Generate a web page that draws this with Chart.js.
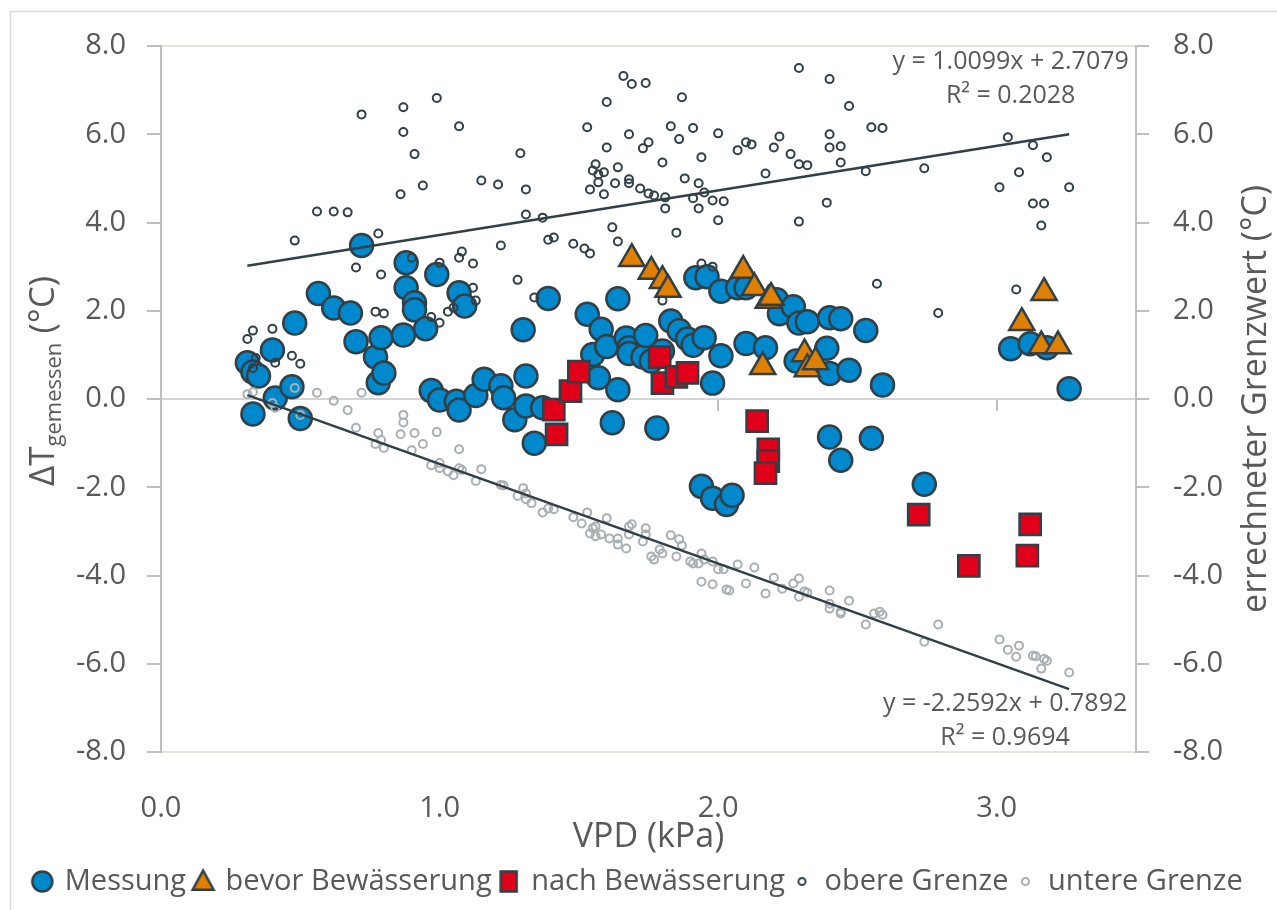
<!DOCTYPE html>
<html>
<head>
<meta charset="utf-8">
<script src="https://cdn.jsdelivr.net/npm/chart.js@4.4.1/dist/chart.umd.min.js"></script>
<style>
  html, body { margin: 0; background: #fff; }
  #wrap { width: 1277px; height: 910px; position: relative; }
</style>
</head>
<body>
<div id="wrap"><canvas id="chart"></canvas></div>
<script>
// Messung (blue circles)
const messungX = [0.31, 0.33, 0.35, 0.33, 0.40, 0.41, 0.47, 0.48, 0.50, 0.565, 0.62, 0.68, 0.70, 0.72, 0.77, 0.78, 0.79, 0.80, 0.87, 0.88,
  0.88, 0.91, 0.91, 0.95, 0.97, 0.99, 1.00, 1.06, 1.07, 1.07, 1.09, 1.13, 1.16, 1.22, 1.23, 1.27, 1.30, 1.31, 1.31, 1.34,
  1.37, 1.39, 1.53, 1.55, 1.57, 1.58, 1.60, 1.62, 1.64, 1.64, 1.67, 1.68, 1.68, 1.73, 1.74, 1.76, 1.78, 1.80, 1.83, 1.86,
  1.89, 1.91, 1.92, 1.94, 1.95, 1.96, 1.98, 1.98, 2.01, 2.01, 2.03, 2.05, 2.07, 2.10, 2.10, 2.17, 2.21, 2.22, 2.27, 2.28,
  2.29, 2.32, 2.39, 2.40, 2.40, 2.40, 2.44, 2.44, 2.47, 2.53, 2.55, 2.59, 2.74, 3.05, 3.12, 3.18, 3.26];
const messungY = [0.82, 0.61, 0.52, -0.34, 1.11, 0.02, 0.28, 1.72, -0.44, 2.39, 2.06, 1.95, 1.30, 3.48, 0.95, 0.37, 1.39, 0.59, 1.45, 3.09,
  2.52, 2.18, 2.02, 1.59, 0.19, 2.82, -0.02, -0.05, -0.25, 2.41, 2.11, 0.08, 0.45, 0.30, 0.03, -0.47, 1.57, 0.52, -0.16, -1.00,
  -0.20, 2.28, 1.92, 1.01, 0.48, 1.58, 1.19, -0.54, 2.27, 0.21, 1.38, 1.16, 1.03, 0.95, 1.44, 0.86, -0.66, 1.09, 1.77, 1.55,
  1.36, 1.22, 2.75, -1.98, 1.39, 2.77, 0.36, -2.25, 2.44, 0.98, -2.39, -2.18, 2.52, 2.52, 1.26, 1.16, 2.25, 1.93, 2.09, 0.86,
  1.72, 1.75, 1.15, 1.84, 0.58, -0.86, 1.82, -1.39, 0.65, 1.55, -0.89, 0.32, -1.93, 1.14, 1.25, 1.16, 0.23];

// bevor Bewaesserung (orange triangles)
const bevorX = [1.69, 1.76, 1.80, 1.82, 2.09, 2.13, 2.18, 2.19, 2.16, 2.31, 2.32, 2.35, 3.09, 3.17, 3.16, 3.22];
const bevorY = [3.18, 2.89, 2.68, 2.48, 2.91, 2.52, 2.23, 2.30, 0.73, 1.02, 0.68, 0.84, 1.73, 2.41, 1.20, 1.20];

// nach Bewaesserung (red squares)
const nachX = [1.41, 1.42, 1.47, 1.50, 1.79, 1.80, 1.85, 1.89, 2.14, 2.18, 2.18, 2.17, 2.72, 2.90, 3.12, 3.11];
const nachY = [-0.24, -0.80, 0.18, 0.62, 0.95, 0.36, 0.50, 0.59, -0.50, -1.14, -1.41, -1.68, -2.62, -3.78, -2.84, -3.55];

// obere Grenze
const obereX = [0.31, 0.33, 0.33, 0.34, 0.40, 0.41, 0.47, 0.48, 0.50, 0.56, 0.62, 0.67, 0.70, 0.72, 0.77, 0.78, 0.79, 0.80, 0.86, 0.87,
  0.87, 0.90, 0.91, 0.94, 0.97, 0.99, 1.00, 1.00, 1.03, 1.05, 1.07, 1.07, 1.08, 1.12, 1.12, 1.13, 1.15, 1.21, 1.22, 1.28,
  1.29, 1.31, 1.31, 1.34, 1.37, 1.39, 1.41, 1.48, 1.52, 1.53, 1.54, 1.54, 1.55, 1.56, 1.57, 1.57, 1.59, 1.59, 1.60, 1.60,
  1.62, 1.63, 1.64, 1.64, 1.66, 1.68, 1.68, 1.68, 1.69, 1.72, 1.73, 1.74, 1.75, 1.75, 1.77, 1.80, 1.80, 1.81, 1.81, 1.83,
  1.85, 1.86, 1.87, 1.88, 1.91, 1.91, 1.93, 1.93, 1.94, 1.94, 1.95, 1.98, 1.98, 2.00, 2.00, 2.02, 2.07, 2.10, 2.12, 2.17,
  2.20, 2.22, 2.26, 2.29, 2.29, 2.29, 2.32, 2.39, 2.40, 2.40, 2.40, 2.44, 2.44, 2.47, 2.53, 2.55, 2.57, 2.59, 2.74, 2.79,
  3.01, 3.04, 3.07, 3.08, 3.13, 3.13, 3.16, 3.17, 3.18, 3.26];
const obereY = [1.36, 1.55, 0.70, 0.93, 1.59, 0.82, 0.98, 3.59, 0.80, 4.25, 4.25, 4.23, 2.98, 6.45, 1.98, 3.75, 2.82, 1.94, 4.64, 6.61,
  6.05, 3.20, 5.55, 4.84, 1.86, 6.82, 3.09, 1.73, 1.98, 2.07, 6.18, 3.20, 3.34, 3.07, 2.52, 2.23, 4.95, 4.86, 3.48, 2.70,
  5.57, 4.75, 4.18, 2.30, 4.11, 3.61, 3.66, 3.52, 3.41, 6.16, 3.30, 4.75, 5.18, 5.32, 5.09, 4.91, 5.14, 4.64, 6.73, 5.70,
  3.89, 4.89, 5.25, 3.57, 7.32, 6.00, 4.89, 4.98, 7.14, 4.77, 5.68, 7.16, 5.82, 4.66, 4.61, 5.36, 2.23, 4.57, 4.32, 6.18,
  3.77, 5.89, 6.84, 5.00, 6.14, 4.55, 4.89, 4.32, 5.48, 3.07, 4.68, 4.50, 3.00, 6.02, 4.05, 4.48, 5.64, 5.82, 5.77, 5.11,
  5.70, 5.95, 5.55, 7.50, 5.32, 4.02, 5.30, 4.45, 7.25, 6.00, 5.70, 5.73, 5.36, 6.64, 5.16, 6.16, 2.61, 6.14, 5.23, 1.95,
  4.80, 5.93, 2.48, 5.14, 5.75, 4.43, 3.93, 4.43, 5.48, 4.80];

// untere Grenze
const untereX = [0.31, 0.33, 0.40, 0.41, 0.48, 0.50, 0.56, 0.62, 0.67, 0.70, 0.72, 0.77, 0.78, 0.79, 0.80, 0.86, 0.87, 0.87, 0.90, 0.91,
  0.94, 0.97, 0.99, 1.00, 1.00, 1.03, 1.05, 1.07, 1.07, 1.08, 1.13, 1.15, 1.22, 1.23, 1.28, 1.30, 1.31, 1.31, 1.33, 1.37,
  1.39, 1.41, 1.48, 1.51, 1.53, 1.54, 1.55, 1.56, 1.56, 1.58, 1.60, 1.61, 1.64, 1.64, 1.67, 1.68, 1.68, 1.69, 1.73, 1.74,
  1.74, 1.76, 1.77, 1.79, 1.80, 1.83, 1.85, 1.86, 1.87, 1.90, 1.91, 1.93, 1.94, 1.94, 1.95, 1.98, 1.98, 2.00, 2.02, 2.03,
  2.04, 2.07, 2.10, 2.13, 2.17, 2.20, 2.23, 2.27, 2.29, 2.29, 2.31, 2.32, 2.40, 2.40, 2.40, 2.44, 2.44, 2.47, 2.53, 2.56,
  2.58, 2.59, 2.74, 2.79, 3.01, 3.04, 3.07, 3.08, 3.13, 3.14, 3.16, 3.17, 3.18, 3.26];
const untereY = [0.11, 0.16, -0.09, -0.20, 0.25, -0.36, 0.14, -0.04, -0.25, -0.65, 0.14, -1.02, -0.77, -0.93, -1.11, -0.80, -0.36, -0.53, -1.16, -0.77,
  -1.02, -1.50, -0.75, -1.45, -1.57, -1.64, -1.73, -1.14, -1.57, -1.61, -1.86, -1.59, -1.95, -1.96, -2.20, -2.02, -2.14, -2.27, -2.36, -2.57,
  -2.48, -2.50, -2.68, -2.82, -2.57, -3.05, -2.93, -2.89, -3.11, -3.07, -2.70, -3.16, -3.16, -3.30, -3.39, -2.89, -3.07, -2.84, -3.23, -2.93,
  -3.07, -3.57, -3.64, -3.41, -3.50, -3.09, -3.57, -3.18, -3.32, -3.68, -3.73, -3.73, -3.50, -4.14, -3.64, -3.68, -4.20, -3.86, -3.86, -4.32,
  -4.34, -3.75, -4.18, -3.82, -4.41, -4.05, -4.30, -4.18, -4.07, -4.48, -4.36, -4.39, -4.34, -4.64, -4.75, -4.82, -4.86, -4.57, -5.11, -4.86,
  -4.82, -4.89, -5.50, -5.11, -5.45, -5.68, -5.84, -5.59, -5.82, -5.83, -6.11, -5.89, -5.93, -6.20];

// linear trendlines (slope, intercept) over the VPD range
const trendRange = [0.31, 3.26];
const trendOben = [1.0099, 2.7079];
const trendUnten = [-2.2592, 0.7892];
const trendTexts = ['y = 1.0099x + 2.7079', 'R² = 0.2028', 'y = -2.2592x + 0.7892', 'R² = 0.9694'];

const textColor = '#595959';
const edge = '#313F47';
const fontFamily = "'Open Sans', sans-serif";
Chart.defaults.font.family = fontFamily;
Chart.defaults.color = textColor;

const pts = (xs, ys) => xs.map((x, i) => ({ x: x, y: ys[i] }));
const trendPts = (c) => trendRange.map(x => ({ x: x, y: c[0] * x + c[1] }));

// small canvases used as legend symbols
function icon(shape, r, fill, stroke, lw) {
  const c = document.createElement('canvas');
  const s = Math.ceil(2 * r + lw + 2);
  c.width = s; c.height = s;
  const g = c.getContext('2d');
  g.translate(s / 2, s / 2);
  g.beginPath();
  if (shape === 'circle') {
    g.arc(0, 0, r, 0, Math.PI * 2);
  } else if (shape === 'triangle') {
    g.moveTo(0, -r); g.lineTo(r * 0.95, r * 0.75); g.lineTo(-r * 0.95, r * 0.75); g.closePath();
  } else {
    g.rect(-r * 0.8, -r, r * 1.6, r * 2);
  }
  if (fill) { g.fillStyle = fill; g.fill(); }
  g.lineWidth = lw; g.strokeStyle = stroke; g.stroke();
  return c;
}

const legendIcons = [
  icon('circle', 10, '#0088CC', edge, 2.5),
  icon('triangle', 11, '#E08000', edge, 2.5),
  icon('rect', 10, '#E0001A', edge, 2.5),
  icon('circle', 3.5, null, edge, 2),
  icon('circle', 3.5, null, '#A9AFB2', 2)
];

// frame, axis titles with subscript, trendline equations
const extras = {
  id: 'extras',
  afterDraw(chart) {
    const ctx = chart.ctx;
    const xs = chart.scales.x, ys = chart.scales.y;
    const area = chart.chartArea;
    const midY = (area.top + area.bottom) / 2;
    ctx.save();

    // outer chart frame (left and top edge visible)
    ctx.strokeStyle = '#D9D9D9';
    ctx.lineWidth = 1.5;
    ctx.beginPath();
    ctx.moveTo(10.5, 910); ctx.lineTo(10.5, 11.5); ctx.lineTo(1277, 11.5);
    ctx.stroke();

    ctx.fillStyle = textColor;
    ctx.font = '25px ' + fontFamily;
    ctx.textAlign = 'center';
    ctx.textBaseline = 'middle';
    const eqPos = [[3.05, 7.64], [3.05, 6.86], [3.03, -6.91], [3.03, -7.68]];
    trendTexts.forEach((t, i) => {
      ctx.fillText(t, xs.getPixelForValue(eqPos[i][0]), ys.getPixelForValue(eqPos[i][1]));
    });

    // left title: ΔT_gemessen (°C)
    ctx.save();
    ctx.translate(41, midY - 18);
    ctx.rotate(-Math.PI / 2);
    const big = '35px ' + fontFamily, small = '22px ' + fontFamily;
    ctx.font = big;
    const w1 = ctx.measureText('ΔT').width;
    const w3 = ctx.measureText(' (°C)').width;
    ctx.font = small;
    const w2 = ctx.measureText('gemessen').width;
    let u = -(w1 + w2 + w3) / 2;
    ctx.textAlign = 'left';
    ctx.textBaseline = 'alphabetic';
    ctx.font = big; ctx.fillText('ΔT', u, 13); u += w1;
    ctx.font = small; ctx.fillText('gemessen', u, 20); u += w2;
    ctx.font = big; ctx.fillText(' (°C)', u, 13);
    ctx.restore();

    // right title
    ctx.save();
    ctx.translate(1256, midY);
    ctx.rotate(-Math.PI / 2);
    ctx.font = '34px ' + fontFamily;
    ctx.textAlign = 'center';
    ctx.textBaseline = 'middle';
    ctx.fillText('errechneter Grenzwert (°C)', 0, 0);
    ctx.restore();

    ctx.restore();
  }
};

const tickFont = { size: 29, family: fontFamily };
const yGridColor = (c) => {
  if (!c.tick) return 'rgba(0,0,0,0)';
  if (c.tick.value === 0) return '#D4D4D4';
  if (Math.abs(c.tick.value) === 8) return '#E4E4DC';
  return 'rgba(0,0,0,0)';
};

new Chart(document.getElementById('chart'), {
  type: 'scatter',
  data: {
    datasets: [
      { label: 'Messung', data: pts(messungX, messungY), pointStyle: 'circle', pointRadius: 11.5,
        backgroundColor: '#0088CC', borderColor: edge, borderWidth: 2.5, order: 5 },
      { label: 'bevor Bewässerung', data: pts(bevorX, bevorY), pointStyle: 'triangle', pointRadius: 14.5,
        backgroundColor: '#E08000', borderColor: edge, borderWidth: 2.5, order: 4 },
      { label: 'nach Bewässerung', data: pts(nachX, nachY), pointStyle: 'rect', pointRadius: 15,
        backgroundColor: '#E0001A', borderColor: edge, borderWidth: 2.5, order: 3 },
      { label: 'obere Grenze', data: pts(obereX, obereY), pointStyle: 'circle', pointRadius: 4,
        backgroundColor: 'rgba(0,0,0,0)', borderColor: edge, borderWidth: 2, order: 2 },
      { label: 'untere Grenze', data: pts(untereX, untereY), pointStyle: 'circle', pointRadius: 4,
        backgroundColor: 'rgba(0,0,0,0)', borderColor: '#A9AFB2', borderWidth: 2, order: 1 },
      { label: 'Trend oben', data: trendPts(trendOben), showLine: true, pointRadius: 0,
        borderColor: edge, borderWidth: 2.5, order: 0 },
      { label: 'Trend unten', data: trendPts(trendUnten), showLine: true, pointRadius: 0,
        borderColor: edge, borderWidth: 2.5, order: 0 }
    ]
  },
  options: {
    responsive: true,
    maintainAspectRatio: false,
    animation: false,
    events: [],
    layout: { padding: { top: 46, left: 0, right: 0, bottom: 4 } },
    scales: {
      x: {
        type: 'linear', min: 0, max: 3.5,
        ticks: { stepSize: 1, includeBounds: false, font: tickFont, color: textColor, padding: 31,
          callback: v => v.toFixed(1) },
        grid: { display: false },
        border: { display: false },
        title: { display: true, text: 'VPD (kPa)', font: { size: 34, family: fontFamily }, color: textColor,
          padding: { top: 0, bottom: 0 } },
        afterFit: s => { s.height = 106; }
      },
      x0: {
        type: 'linear', position: { y: 0 }, min: 0, max: 3.5,
        ticks: { display: false, stepSize: 1, includeBounds: false },
        grid: { color: 'rgba(0,0,0,0)', tickColor: '#BFBFBF', tickLength: 12, lineWidth: 2, drawOnChartArea: false },
        border: { display: false }
      },
      y: {
        position: 'left', min: -8, max: 8,
        ticks: { stepSize: 2, font: tickFont, color: textColor, padding: 21, callback: v => v.toFixed(1) },
        grid: { color: yGridColor, tickColor: '#BFBFBF', tickLength: 14, lineWidth: 2 },
        border: { color: '#BFBFBF', width: 2 },
        afterFit: s => { s.width = 161; }
      },
      y2: {
        position: 'right', min: -8, max: 8,
        ticks: { stepSize: 2, font: tickFont, color: textColor, padding: 24, callback: v => v.toFixed(1) },
        grid: { drawOnChartArea: false, tickColor: '#BFBFBF', tickLength: 13, lineWidth: 2 },
        border: { color: '#BFBFBF', width: 2 },
        afterFit: s => { s.width = 141; }
      }
    },
    plugins: {
      tooltip: { enabled: false },
      legend: {
        position: 'bottom',
        labels: {
          usePointStyle: true,
          pointStyleWidth: 16,
          boxWidth: 16,
          padding: 9,
          font: { size: 29, family: fontFamily },
          color: textColor,
          generateLabels: (chart) => chart.data.datasets.slice(0, 5).map((ds, i) => ({
            text: ds.label,
            pointStyle: legendIcons[i],
            fillStyle: ds.backgroundColor,
            strokeStyle: ds.borderColor,
            lineWidth: 0,
            hidden: false,
            datasetIndex: i,
            fontColor: textColor
          }))
        }
      }
    }
  },
  plugins: [extras]
});
</script>
</body>
</html>
